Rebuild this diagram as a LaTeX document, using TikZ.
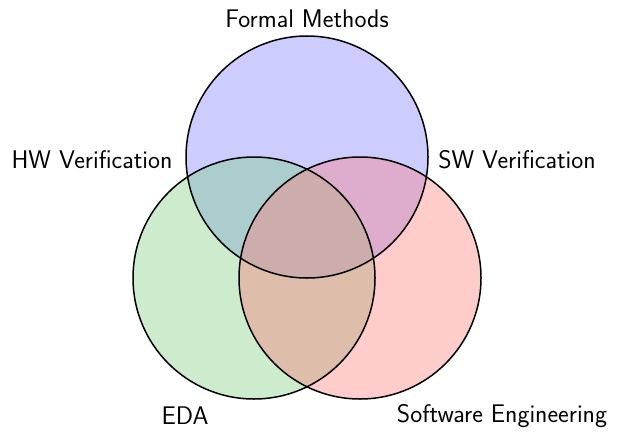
\documentclass[tikz,border=0pt]{standalone}
\usepackage{fontspec}
% region colours of the diagram
\definecolor{cB}{RGB}{204,204,255}
\definecolor{cG}{RGB}{205,235,205}
\definecolor{cR}{RGB}{255,204,204}
\definecolor{cBG}{RGB}{172,205,205}
\definecolor{cBR}{RGB}{222,172,205}
\definecolor{cGR}{RGB}{222,190,170}
\definecolor{cBGR}{RGB}{205,172,172}
\begin{document}
\begin{tikzpicture}[x=1pt,y=-1pt,
  ring/.style={draw=black,line width=1.5pt},
  lbl/.style={font=\sffamily\fontsize{25.5}{30}\selectfont,inner sep=0pt}]
\useasboundingbox (0,0) rectangle (620,433);
\coordinate (fm) at (307,157);
\coordinate (eda) at (254,278);
\coordinate (se) at (360,278);
\def\rr{121}
% single sets
\fill[cB] (fm) circle[radius=\rr];
\fill[cG] (eda) circle[radius=\rr];
\fill[cR] (se) circle[radius=\rr];
% pairwise overlaps
\begin{scope}
  \clip (fm) circle[radius=\rr];
  \fill[cBG] (eda) circle[radius=\rr];
  \fill[cBR] (se) circle[radius=\rr];
\end{scope}
\begin{scope}
  \clip (eda) circle[radius=\rr];
  \fill[cGR] (se) circle[radius=\rr];
\end{scope}
% common core
\begin{scope}
  \clip (fm) circle[radius=\rr];
  \clip (eda) circle[radius=\rr];
  \fill[cBGR] (se) circle[radius=\rr];
\end{scope}
% outlines
\draw[ring] (fm) circle[radius=\rr];
\draw[ring] (eda) circle[radius=\rr];
\draw[ring] (se) circle[radius=\rr];
% labels
\node[lbl] (tfm) at (307,19) {Formal Methods};
\node[lbl] (thw) at (92,160) {HW Verification};
\node[lbl] (tsw) at (517,160) {SW Verification};
\node[lbl] (teda) at (185,416) {EDA};
\node[lbl] (tse) at (502,416) {Software Engineering};
\end{tikzpicture}
\end{document}
